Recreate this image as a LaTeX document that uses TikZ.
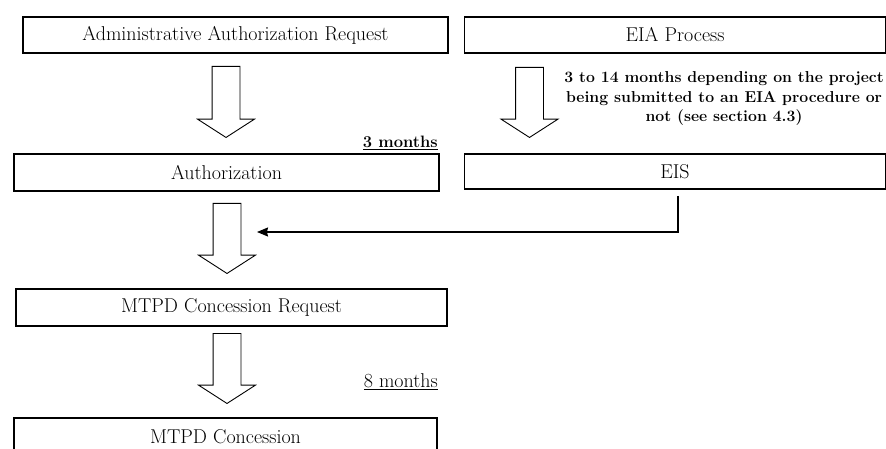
\documentclass[tikz,border=0pt]{standalone}
\usepackage{fontspec}
\usepackage{tikz}
\usetikzlibrary{shapes.arrows, arrows.meta, positioning}
\tikzset{
box/.style={draw, line width=1.1pt, inner sep=0pt, minimum height=36pt, font=\fontsize{20}{24}\selectfont}, % the process boxes
hollow/.style={single arrow, draw, line width=0.9pt, inner xsep=0pt, inner ysep=13.5pt, rotate=-90, anchor=tail,
  minimum height=70pt, single arrow head extend=14.5pt, single arrow tip angle=114.5}, % the wide downward arrows
feed/.style={line width=1.3pt, -{Stealth[length=11pt, width=9pt, inset=1pt]}}, % the thin arrow from the EIS
note/.style={inner sep=0pt, font=\fontsize{20}{24}\selectfont}, % durations
}
\begin{document}
\begin{tikzpicture}[x=1pt, y=-1pt]
\useasboundingbox (0,0) rectangle (886,449);

% left column
\node[box, minimum width=425pt] (adminreq) at (235.5,35) {Administrative Authorization Request};
\node[box, minimum width=425pt, minimum height=37pt] (auth) at (226.5,172.5) {Authorization};
\node[box, minimum width=431pt, minimum height=37pt] (concreq) at (231.5,307.5) {MTPD Concession Request};
\node[box, minimum width=423pt, minimum height=37pt] (conc) at (225.5,436.5) {MTPD Concession};

% right column
\node[box, minimum width=421pt] (eia) at (675,35) {EIA Process};
\node[box, minimum width=421pt, minimum height=35pt] (eis) at (675,171.5) {EIS};

% hollow arrows
\node[hollow, minimum height=71pt] (a1) at (226,66) {};
\node[hollow] (a2) at (529.5,67) {};
\node[hollow] (a3) at (227,203) {};
\node[hollow] (a4) at (227,333) {};

% durations
\node[note, anchor=base east, font=\fontsize{16.5}{20}\selectfont\bfseries] (three) at (438,148) {\underline{3 months}};
\node[note, anchor=base east] (eight) at (438,387) {\underline{8 months}};
\node[note, align=center, font=\fontsize{15.8}{19.5}\selectfont\bfseries] (eiatime) at (724,99)
  {3 to 14 months depending on the project\\ being submitted to an EIA procedure or\\ not (see section 4.3)};

% EIS feeds into the concession request
\coordinate (eisout) at (678,196);
\coordinate (join) at (257,232);
\draw[feed] (eisout) |- (join);

\end{tikzpicture}
\end{document}
